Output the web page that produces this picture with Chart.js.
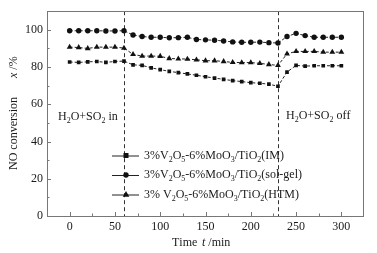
<!DOCTYPE html>
<html>
<head>
<meta charset="utf-8">
<script src="https://cdn.jsdelivr.net/npm/chart.js@4.4.1/dist/chart.umd.min.js"></script>
<style>
  html, body { margin: 0; padding: 0; background: #fff; }
  #wrap { width: 377px; height: 253px; }
</style>
</head>
<body>
<div id="wrap"><canvas id="conv"></canvas></div>
<script>
// time on stream, min
const times = [0, 10, 20, 30, 40, 50, 60, 70, 80, 90, 100, 110, 120, 130, 140, 150,
	160, 170, 180, 190, 200, 210, 220, 230, 240, 250, 260, 270, 280, 290, 300];

// NO conversion, %
const convIM = [82.7, 82.5, 82.8, 83.0, 82.5, 83.0, 83.2, 81.2, 80.9, 79.6, 78.6, 77.7, 77.0, 76.3, 75.6, 74.8,
	74.1, 73.4, 72.7, 72.2, 71.6, 71.3, 70.8, 69.7, 77.3, 80.9, 80.5, 80.7, 80.7, 80.7, 80.7];
const convSolGel = [99.5, 99.5, 99.5, 99.5, 99.4, 99.4, 99.5, 97.2, 96.4, 96.0, 96.0, 95.7, 95.8, 96.0, 94.8, 94.6,
	94.4, 94.0, 93.5, 93.3, 93.3, 93.4, 93.1, 92.9, 96.4, 98.1, 96.9, 96.0, 96.0, 96.0, 96.0];
const convHTM = [90.7, 90.5, 90.0, 90.7, 90.7, 90.7, 90.2, 86.8, 85.9, 85.9, 85.8, 84.6, 84.4, 84.3, 83.9, 83.4,
	83.4, 83.0, 82.5, 82.4, 82.4, 82.0, 81.4, 80.9, 87.1, 88.4, 88.4, 88.4, 88.0, 88.0, 88.0];

const seriesLabels = ['3%V_2O_5-6%MoO_3/TiO_2(IM)', '3%V_2O_5-6%MoO_3/TiO_2(sol-gel)', '3% V_2O_5-6%MoO_3/TiO_2(HTM)'];
const markerStyles = ['rect', 'circle', 'triangle'];

const xTicks = [0, 50, 100, 150, 200, 250, 300];
const xMinorTicks = [25, 75, 125, 175, 225, 275];
const yTicks = [0, 20, 40, 60, 80, 100];
const yMinorTicks = [10, 30, 50, 70, 90];

// gas switching events
const switchTimes = [60, 230];
const switchLabels = ['H_2O+SO_2 in', 'H_2O+SO_2 off'];

const FONT = '"Liberation Serif", "Times New Roman", serif';
const INK = '#1a1a1a';

function toPoints(vals) {
	return times.map((t, i) => ({ x: t, y: vals[i] }));
}

// draws text where "_c" makes c a subscript
function drawRich(ctx, str, x, y, size, italic) {
	let cx = x;
	ctx.textBaseline = 'middle';
	ctx.textAlign = 'left';
	for (let i = 0; i < str.length; i++) {
		let ch = str[i];
		let sub = false;
		if (ch === '_') { ch = str[++i]; sub = true; }
		const s = sub ? Math.round(size * 0.68) : size;
		ctx.font = (italic ? 'italic ' : '') + s + 'px ' + FONT;
		ctx.fillText(ch, cx, sub ? y + 4 : y);
		cx += ctx.measureText(ch).width;
	}
	return cx;
}

function drawMarker(ctx, style, x, y) {
	ctx.beginPath();
	if (style === 'rect') {
		ctx.rect(x - 2.5, y - 2.5, 5, 5);
	} else if (style === 'circle') {
		ctx.arc(x, y, 2.7, 0, Math.PI * 2);
	} else {
		ctx.moveTo(x, y - 3.5);
		ctx.lineTo(x + 3.3, y + 2.3);
		ctx.lineTo(x - 3.3, y + 2.3);
		ctx.closePath();
	}
	ctx.fill();
}

const extras = {
	id: 'extras',
	beforeDatasetsDraw(chart) {
		const { ctx, chartArea: a, scales: { x } } = chart;
		ctx.save();
		ctx.strokeStyle = '#333';
		ctx.lineWidth = 1;
		ctx.setLineDash([4, 3]);
		switchTimes.forEach(t => {
			const px = Math.round(x.getPixelForValue(t)) + 0.5;
			ctx.beginPath();
			ctx.moveTo(px, a.top);
			ctx.lineTo(px, a.bottom);
			ctx.stroke();
		});
		ctx.restore();
	},
	afterDraw(chart) {
		const { ctx, chartArea: a, scales: { x, y } } = chart;
		ctx.save();

		// frame
		ctx.strokeStyle = '#777';
		ctx.lineWidth = 1;
		ctx.strokeRect(Math.round(a.left) + 0.5, Math.round(a.top) + 0.5,
			Math.round(a.right - a.left) - 1, Math.round(a.bottom - a.top));

		// inward ticks
		ctx.beginPath();
		xTicks.forEach(v => { const p = Math.round(x.getPixelForValue(v)) + 0.5; ctx.moveTo(p, a.bottom); ctx.lineTo(p, a.bottom - 4); });
		xMinorTicks.forEach(v => { const p = Math.round(x.getPixelForValue(v)) + 0.5; ctx.moveTo(p, a.bottom); ctx.lineTo(p, a.bottom - 2.5); });
		yTicks.forEach(v => { const p = Math.round(y.getPixelForValue(v)) + 0.5; ctx.moveTo(a.left, p); ctx.lineTo(a.left + 4, p); });
		yMinorTicks.forEach(v => { const p = Math.round(y.getPixelForValue(v)) + 0.5; ctx.moveTo(a.left, p); ctx.lineTo(a.left + 2.5, p); });
		ctx.stroke();

		ctx.fillStyle = INK;
		// event notes
		drawRich(ctx, switchLabels[0], 58, 117, 12);
		drawRich(ctx, switchLabels[1], 286, 116, 12);

		// legend
		const rows = [155.5, 175, 194.5];
		rows.forEach((ry, i) => {
			ctx.strokeStyle = '#222';
			ctx.setLineDash([]);
			ctx.beginPath();
			ctx.moveTo(112, ry + 0.5);
			ctx.lineTo(139, ry + 0.5);
			ctx.stroke();
			ctx.fillStyle = '#111';
			drawMarker(ctx, markerStyles[i], 126, ry);
			ctx.fillStyle = INK;
			drawRich(ctx, seriesLabels[i], 144, ry, 12);
		});

		// x title
		drawRich(ctx, 'Time', 172, 243, 12);
		let cx = drawRich(ctx, 't', 202, 243, 12, true);
		drawRich(ctx, ' /min', cx, 243, 12);

		// y title
		ctx.translate(14, 170);
		ctx.rotate(-Math.PI / 2);
		drawRich(ctx, 'NO conversion', 0, 0, 12);
		cx = drawRich(ctx, 'x', 92, 0, 12, true);
		drawRich(ctx, ' /%', cx, 0, 12);

		ctx.restore();
	}
};

const commonSet = {
	borderColor: '#222',
	backgroundColor: '#111',
	borderWidth: 1,
	borderDash: [3, 2],
	pointBorderWidth: 0,
	tension: 0,
};

const config_conv = {
	type: 'line',
	data: {
		datasets: [
			{ ...commonSet, label: seriesLabels[0], data: toPoints(convIM), pointStyle: 'rect', pointRadius: 2.6 },
			{ ...commonSet, label: seriesLabels[1], data: toPoints(convSolGel), pointStyle: 'circle', pointRadius: 2.7 },
			{ ...commonSet, label: seriesLabels[2], data: toPoints(convHTM), pointStyle: 'triangle', pointRadius: 3.4 },
		]
	},
	options: {
		responsive: true,
		maintainAspectRatio: false,
		animation: false,
		layout: { padding: { top: 8, right: 13, left: 0, bottom: 0 } },
		plugins: {
			legend: { display: false },
			title: { display: false },
			tooltip: { enabled: false },
		},
		scales: {
			x: {
				type: 'linear',
				min: -25,
				max: 325,
				afterBuildTicks: axis => { axis.ticks = xTicks.map(v => ({ value: v })); },
				afterFit: axis => { axis.height = 37; },
				grid: { display: false, drawTicks: false },
				border: { display: false },
				ticks: { padding: 4, color: INK, font: { family: FONT, size: 12 }, maxRotation: 0 },
			},
			y: {
				min: 0,
				max: 110,
				afterBuildTicks: axis => { axis.ticks = yTicks.map(v => ({ value: v })); },
				afterFit: axis => { axis.width = 47; },
				grid: { display: false, drawTicks: false },
				border: { display: false },
				ticks: { padding: 4, color: INK, font: { family: FONT, size: 12 } },
			},
		}
	},
	plugins: [extras],
};

const conv = new Chart(document.getElementById('conv'), config_conv);
</script>
</body>
</html>
